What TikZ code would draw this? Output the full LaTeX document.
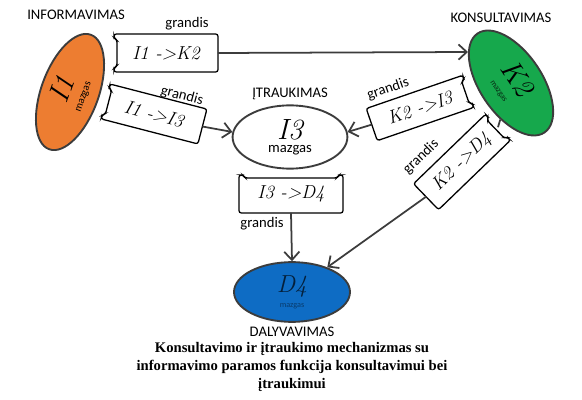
\documentclass[tikz,border=0pt]{standalone}
\usepackage{fontspec}
\newfontfamily\lblfont{Carlito}
\newfontfamily\capfont{Liberation Serif}
\usetikzlibrary{positioning, arrows.meta, shapes.geometric}
\definecolor{nodeorange}{RGB}{237,125,49}
\definecolor{nodegreen}{RGB}{22,168,76}
\definecolor{nodeblue}{RGB}{14,108,196}
\definecolor{edgegray}{RGB}{60,60,60}

% bracket-ended link box, notch on the left; #2 half width, #3 half height
\newcommand{\grandisbox}[3][]{%
  \draw[boxline,#1] (-#2,#3) -- (-#2,#3-4) -- (-#2+3,#3-6) -- (-#2+3,-#3+6)
    -- (-#2,-#3+4) -- (-#2,-#3) -- (#2,-#3) -- (#2,#3) -- cycle;}
\newcommand{\bigtxt}{\itshape\fontsize{25}{25}\selectfont}

\begin{document}
\begin{tikzpicture}
[x=0.03cm, y=0.03cm,
 mazgas/.style={ellipse, draw=edgegray, line width=1.6pt, inner sep=0pt, align=center},
 grandis/.style={rectangle, inner sep=0pt, transform shape,
   font=\itshape\fontsize{16}{16}\selectfont},
 boxline/.style={draw=black, line width=1.1pt, fill=white, rounded corners=2pt},
 lbl/.style={font=\lblfont\fontsize{12.5}{13}\selectfont, inner sep=0pt},
 link/.style={draw=edgegray, line width=1.5pt},
 ->/.style={link, arrows={-Straight Barb[length=7pt, width=13pt, line width=1.5pt]}},
 every text node part/.style={align=center}]
\useasboundingbox (0,0) rectangle (582,-400);

% mazgai
\node[mazgas, fill=nodeorange, minimum width=104pt, minimum height=49pt, rotate=70]
  (I1) at (70,-92) {{\bigtxt I1}\\[1pt]{\lblfont\fontsize{9}{9}\selectfont mazgas}};
\node[mazgas, fill=nodegreen, minimum width=102pt, minimum height=53pt, rotate=-56]
  (K2) at (511,-83) {{\bigtxt K2}\\[1pt]{\lblfont\fontsize{7}{7}\selectfont\color{black!75!nodegreen} mazgas}};
\node[mazgas, fill=white, minimum width=98pt, minimum height=54pt]
  (I3) at (290,-137) {{\bigtxt I3}\\[-1pt]{\lblfont\fontsize{12.5}{12.5}\selectfont mazgas}};
\node[mazgas, fill=nodeblue, minimum width=99pt, minimum height=51pt]
  (D4) at (292,-292) {{\bigtxt\fontsize{21}{21}\selectfont\color{black!70!nodeblue} D4}\\[1pt]{\lblfont\fontsize{7}{7}\selectfont\color{black!45!nodeblue} mazgas}};

\node[lbl] (tI1) at (76,-15) {INFORMAVIMAS};
\node[lbl] (tK2) at (501,-18) {KONSULTAVIMAS};
\node[lbl, above=4pt of I3] (tI3) {ĮTRAUKIMAS};
\node[lbl, below=3pt of D4] (tD4) {DALYVAVIMAS};

% grandys
\begin{scope}[shift={(166,-53)}]
  \grandisbox{52}{19}
  \node[grandis, minimum width=88pt, minimum height=32pt] (bA) at (0,0) {I1 ->K2};
\end{scope}
\begin{scope}[shift={(154,-114)}, rotate=-14.5]
  \grandisbox{50}{18}
  \node[grandis, minimum width=85pt, minimum height=31pt] (bB) at (0,0) {I1 ->I3};
\end{scope}
\begin{scope}[shift={(420,-108)}, rotate=19]
  \grandisbox[rotate=180]{51}{17}
  \node[grandis, minimum width=87pt, minimum height=29pt] (bC) at (0,0) {K2 ->I3};
\end{scope}
\begin{scope}[shift={(462,-162)}, rotate=44]
  \grandisbox[rotate=180]{50}{18}
  \node[grandis, minimum width=85pt, minimum height=31pt] (bD) at (0,0) {K2 ->D4};
\end{scope}
\begin{scope}[shift={(291,-194)}]
  \grandisbox[rotate=-90]{19}{52}
  \node[grandis, minimum width=88pt, minimum height=32pt] (bE) at (0,0) {I3 ->D4};
\end{scope}

\node[lbl] (gA) at (187,-24) {grandis};
\node[lbl, rotate=-15] (gB) at (182,-96) {grandis};
\node[lbl, rotate=19] (gC) at (388,-89) {grandis};
\node[lbl, rotate=44] (gD) at (421,-157) {grandis};
\node[lbl] (gE) at (262,-224) {grandis};

\coordinate (k2tip) at (468,-52);
\draw[->] (bA.east) -- (k2tip);
\draw[->] (bB.east) -- (I3.175);
\draw[->] (bC.west) -- (I3.5);
\draw[link] (K2) -- (bD.east);
\draw[->] (bD.west) -- (D4.35);
\draw[->] (bE.south) -- (D4.north);

\node[font=\capfont\bfseries\fontsize{12.5}{15}\selectfont, inner sep=0pt]
  (capt) at (292,-367) {Konsultavimo ir įtraukimo mechanizmas su\\
  informavimo paramos funkcija konsultavimui bei\\ įtraukimui};
\end{tikzpicture}
\end{document}
